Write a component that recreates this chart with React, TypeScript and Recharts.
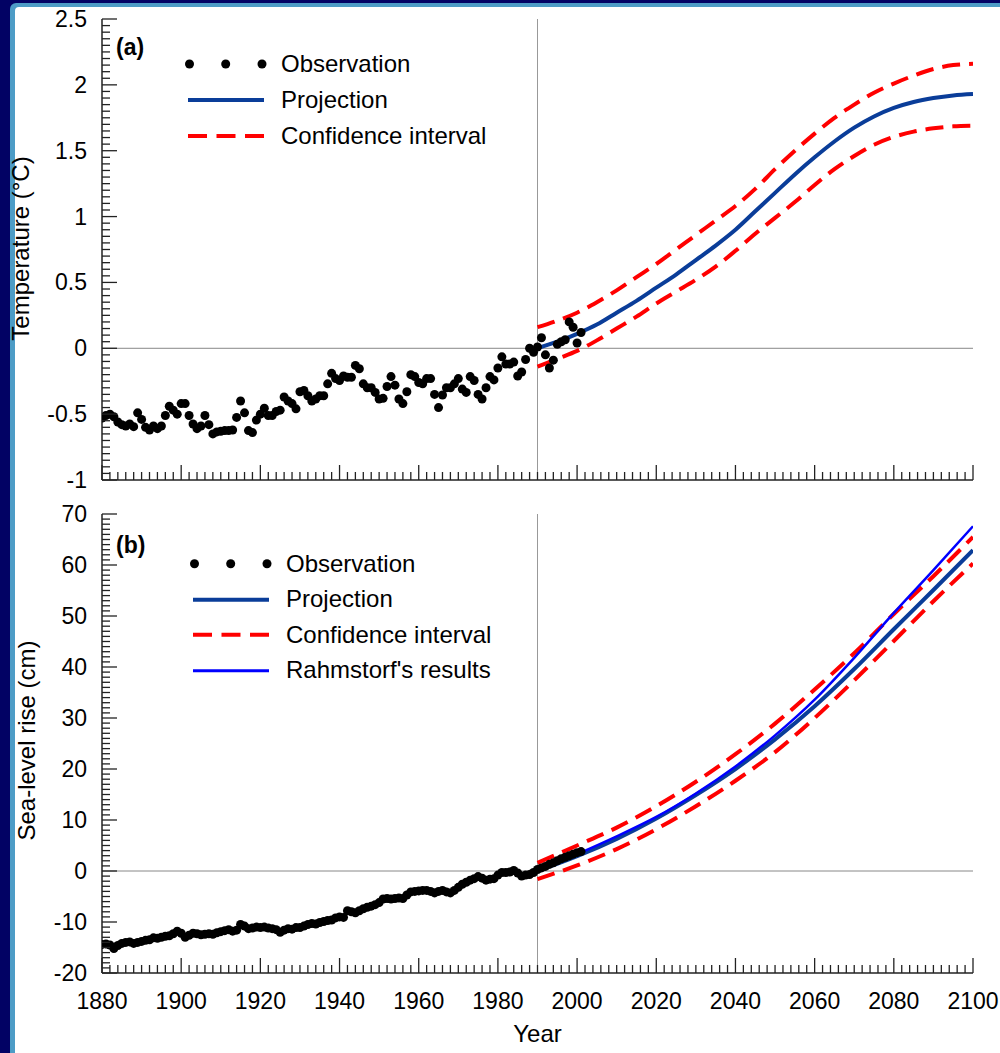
import React from "react";
import { ComposedChart, Line, Scatter, XAxis, YAxis, ReferenceLine, Legend } from "recharts";

const FONT = '"Liberation Sans", Arial, Helvetica, sans-serif';
const NAVY = "#020264";
const EDGE_BLUE = "#4d9cc6";
const AXIS = "#222222";
const PROJ_COLOR = "#0a3d99";
const CI_COLOR = "#ff0000";
const RAHM_COLOR = "#0000ff";

// observations, one value per year starting at 1880
const OBS_START = 1880;
const TEMP_OBS = [
  -0.53, -0.51, -0.5, -0.52, -0.56, -0.58, -0.59, -0.575, -0.595, -0.49,
  -0.54, -0.6, -0.62, -0.59, -0.61, -0.59, -0.51, -0.44, -0.47, -0.5,
  -0.42, -0.42, -0.51, -0.575, -0.61, -0.59, -0.51, -0.58, -0.65, -0.635,
  -0.63, -0.625, -0.625, -0.62, -0.525, -0.4, -0.49, -0.625, -0.64, -0.545,
  -0.5, -0.455, -0.51, -0.51, -0.48, -0.47, -0.37, -0.4, -0.42, -0.46,
  -0.33, -0.32, -0.36, -0.4, -0.385, -0.36, -0.36, -0.27, -0.19, -0.23,
  -0.245, -0.21, -0.22, -0.22, -0.13, -0.155, -0.27, -0.3, -0.3, -0.335,
  -0.385, -0.38, -0.29, -0.215, -0.28, -0.385, -0.42, -0.33, -0.2, -0.215,
  -0.26, -0.27, -0.23, -0.23, -0.35, -0.45, -0.355, -0.3, -0.3, -0.27,
  -0.23, -0.31, -0.335, -0.215, -0.245, -0.35, -0.385, -0.3, -0.215, -0.24,
  -0.15, -0.065, -0.12, -0.12, -0.105, -0.21, -0.18, -0.085, 0.0, -0.03,
  0.01, 0.08, -0.05, -0.15, -0.09, 0.03, 0.05, 0.065, 0.2, 0.16,
  0.04, 0.12,
];
const SEA_OBS = [
  -14.4, -14.3, -14.5, -15.2, -14.6, -14.2, -14.0, -13.9, -14.2, -14.0,
  -13.8, -13.6, -13.5, -13.1, -13.2, -13.0, -12.8, -12.7, -12.3, -11.8,
  -12.2, -13.0, -12.6, -12.2, -12.3, -12.5, -12.4, -12.3, -12.4, -12.1,
  -11.9, -11.7, -11.5, -11.8, -11.6, -10.5, -10.8, -11.3, -11.2, -11.0,
  -11.1, -11.0, -11.2, -11.3, -11.5, -12.0, -11.6, -11.3, -11.4, -11.1,
  -11.1, -10.8, -10.5, -10.3, -10.4, -10.1, -9.9, -9.7, -9.6, -9.2,
  -9.0, -9.1, -7.8, -8.0, -8.2, -7.8, -7.4, -7.1, -6.9, -6.6,
  -6.2, -5.5, -5.4, -5.5, -5.4, -5.3, -5.4, -4.7, -4.1, -4.0,
  -3.9, -3.8, -3.8, -4.0, -4.3, -4.0, -3.8, -4.1, -4.3, -3.8,
  -3.2, -2.6, -2.2, -1.8, -1.5, -1.1, -1.4, -1.8, -1.6, -1.5,
  -0.8, -0.3, -0.3, -0.2, 0.1, -0.4, -1.0, -0.8, -0.7, -0.3,
  0.3, 0.6, 0.9, 1.3, 1.6, 2.0, 2.4, 2.7, 3.0, 3.3,
  3.6, 3.8,
];

// projections
const PROJ_YEARS_A = [
  1990, 1995, 2000, 2005, 2010, 2015, 2020, 2025, 2030, 2035, 2040, 2045,
  2050, 2055, 2060, 2065, 2070, 2075, 2080, 2085, 2090, 2095, 2100,
];
const TEMP_PROJ = [
  0.0, 0.05, 0.11, 0.18, 0.27, 0.36, 0.46, 0.56, 0.67, 0.78, 0.9, 1.04,
  1.18, 1.32, 1.45, 1.57, 1.675, 1.76, 1.825, 1.87, 1.9, 1.92, 1.93,
];
const TEMP_UPPER = [
  0.16, 0.21, 0.27, 0.35, 0.44, 0.54, 0.64, 0.75, 0.86, 0.97, 1.08, 1.21,
  1.36, 1.5, 1.63, 1.75, 1.85, 1.94, 2.01, 2.07, 2.12, 2.15, 2.16,
];
const TEMP_LOWER = [
  -0.14, -0.08, -0.02, 0.06, 0.15, 0.24, 0.34, 0.43, 0.52, 0.62, 0.74, 0.87,
  0.99, 1.11, 1.24, 1.36, 1.46, 1.545, 1.605, 1.645, 1.67, 1.685, 1.69,
];

const PROJ_YEARS_B = [1990, 2000, 2010, 2020, 2030, 2040, 2050, 2060, 2070, 2080, 2090, 2100];
const SEA_PROJ = [0, 2.9, 6.3, 10.3, 14.9, 20.0, 25.8, 32.3, 39.6, 47.4, 55.1, 62.9];
const SEA_UPPER = [1.6, 5.0, 8.5, 12.7, 17.5, 22.9, 28.9, 35.6, 42.7, 50.4, 57.8, 65.5];
const SEA_LOWER = [-1.6, 1.1, 4.3, 8.2, 12.7, 17.7, 23.3, 30.0, 37.4, 45.1, 52.9, 60.3];
const SEA_RAHMSTORF = [0, 3.3, 6.8, 10.6, 15.2, 20.5, 26.6, 33.6, 41.8, 50.6, 59.0, 67.6];

// tick labels
const YEAR_LABELS = [1880, 1900, 1920, 1940, 1960, 1980, 2000, 2020, 2040, 2060, 2080, 2100];
const TEMP_LABELS = [-1, -0.5, 0, 0.5, 1, 1.5, 2, 2.5];
const SEA_LABELS = [-20, -10, 0, 10, 20, 30, 40, 50, 60, 70];

const LEGEND_ORDER = ["Observation", "Projection", "Confidence interval", "Rahmstorf's results"];

function steps(lo: number, hi: number, step: number) {
  const out: number[] = [];
  const n = Math.round((hi - lo) / step);
  for (let i = 0; i <= n; i++) out.push(+(lo + i * step).toFixed(4));
  return out;
}

const YEAR_TICKS = steps(1880, 2100, 2);
const TEMP_TICKS = steps(-1, 2.5, 0.05);
const SEA_TICKS = steps(-20, 70, 1);

const series = (years: number[], values: number[]) => values.map((value, i) => ({ year: years[i], value }));
const yearly = (values: number[]) => values.map((value, i) => ({ year: OBS_START + i, value }));

function EdgeTick(props: any) {
  const { x = 0, y = 0, payload, side, labels, showLabels } = props;
  const v = payload?.value ?? 0;
  const label = labels.find((l: number) => Math.abs(l - v) < 1e-6);
  const major = label !== undefined;
  const len = major ? 15 : 8;
  let x2 = x;
  let y2 = y;
  if (side === "bottom") y2 = y - len;
  else if (side === "top") y2 = y + len;
  else if (side === "left") x2 = x + len;
  else x2 = x - len;
  return (
    <g>
      <line x1={x} y1={y} x2={x2} y2={y2} stroke={AXIS} strokeWidth={1.3} />
      {showLabels && major && side === "bottom" && (
        <text x={x} y={y + 28} textAnchor="middle" dominantBaseline="central" fontSize={23} fontFamily={FONT} fill="#000">
          {label}
        </text>
      )}
      {showLabels && major && side === "left" && (
        <text x={x - 15} y={y} textAnchor="end" dominantBaseline="central" fontSize={23} fontFamily={FONT} fill="#000">
          {label}
        </text>
      )}
    </g>
  );
}

function LegendBox({ payload = [], rowH }: any) {
  const seen = new Set<string>();
  const items = [...payload]
    .filter((p: any) => {
      if (p.type === "none" || seen.has(p.value)) return false;
      seen.add(p.value);
      return true;
    })
    .sort((a: any, b: any) => LEGEND_ORDER.indexOf(a.value) - LEGEND_ORDER.indexOf(b.value));
  return (
    <div style={{ fontFamily: FONT, fontSize: 24, color: "#000" }}>
      {items.map((it: any) => (
        <div key={it.value} style={{ display: "flex", alignItems: "center", height: rowH, whiteSpace: "nowrap" }}>
          <svg width={96} height={rowH} style={{ flex: "none" }}>
            {it.type === "circle" ? (
              [4.5, 40.7, 77].map(cx => <circle key={cx} cx={cx} cy={rowH / 2} r={4.5} fill={it.color} />)
            ) : (
              <line
                x1={3}
                x2={79}
                y1={rowH / 2}
                y2={rowH / 2}
                stroke={it.color}
                strokeWidth={it.payload?.strokeWidth === 4 ? 4 : 3}
                strokeDasharray={it.payload?.strokeDasharray ? "19 9.5" : undefined}
              />
            )}
          </svg>
          <span>{it.value}</span>
        </div>
      ))}
    </div>
  );
}

function yTitle(text: string, cx: number, dy: number) {
  return {
    content: (p: any) => {
      const vb = p.viewBox ?? { y: 0, height: 0 };
      const cy = vb.y + vb.height / 2 + dy;
      return (
        <text x={cx} y={cy} transform={`rotate(-90 ${cx} ${cy})`} textAnchor="middle" dominantBaseline="central" fontSize={24} fontFamily={FONT} fill="#000">
          {text}
        </text>
      );
    },
  };
}

const xTitle = {
  content: (p: any) => {
    const vb = p.viewBox ?? { x: 0, y: 0, width: 0 };
    return (
      <text x={vb.x + vb.width / 2} y={vb.y + 60} textAnchor="middle" dominantBaseline="central" fontSize={24} fontFamily={FONT} fill="#000">
        Year
      </text>
    );
  },
};

const dot = (p: any) => <circle cx={p.cx} cy={p.cy} r={4.5} fill="#000" />;

function Panel(props: any) {
  const { top, height, xHeight, yDomain, yTicks, yLabels, title, titleX, titleDy, showX, children, legendTop, legendLeft, rowH, tag, tagTop } = props;
  const axisLine = { stroke: AXIS, strokeWidth: 1.5 };
  return (
    <div style={{ position: "absolute", left: 0, top }}>
      <ComposedChart width={1000} height={height} margin={{ top: 19, right: 27, bottom: 0, left: 0 }}>
        <XAxis
          type="number"
          dataKey="year"
          domain={[1880, 2100]}
          allowDataOverflow
          ticks={YEAR_TICKS}
          interval={0}
          height={xHeight}
          tickSize={0}
          tickMargin={0}
          tickLine={false}
          axisLine={axisLine}
          tick={<EdgeTick side="bottom" labels={YEAR_LABELS} showLabels={showX} />}
          label={showX ? xTitle : undefined}
        />
        <XAxis
          xAxisId="top"
          orientation="top"
          type="number"
          domain={[1880, 2100]}
          allowDataOverflow
          ticks={YEAR_TICKS}
          interval={0}
          height={0}
          tickSize={0}
          tickMargin={0}
          tickLine={false}
          axisLine={axisLine}
          tick={<EdgeTick side="top" labels={YEAR_LABELS} />}
        />
        <YAxis
          type="number"
          domain={yDomain}
          allowDataOverflow
          ticks={yTicks}
          interval={0}
          width={102}
          tickSize={0}
          tickMargin={0}
          tickLine={false}
          axisLine={axisLine}
          tick={<EdgeTick side="left" labels={yLabels} showLabels />}
          label={yTitle(title, titleX, titleDy)}
        />
        <YAxis
          yAxisId="right"
          orientation="right"
          type="number"
          domain={yDomain}
          allowDataOverflow
          ticks={yTicks}
          interval={0}
          width={0}
          tickSize={0}
          tickMargin={0}
          tickLine={false}
          axisLine={axisLine}
          tick={<EdgeTick side="right" labels={yLabels} />}
        />
        <ReferenceLine y={0} stroke="#888" strokeWidth={1} />
        <ReferenceLine x={1990} stroke="#999" strokeWidth={1} />
        {children}
        <Legend
          layout="vertical"
          align="center"
          verticalAlign="middle"
          wrapperStyle={{ top: legendTop, left: legendLeft, width: 420 }}
          content={(p: any) => <LegendBox payload={p.payload} rowH={rowH} />}
        />
      </ComposedChart>
      <div style={{ position: "absolute", left: 116, top: tagTop, fontFamily: FONT, fontSize: 23, fontWeight: "bold", lineHeight: "23px", color: "#000" }}>
        {tag}
      </div>
    </div>
  );
}

export default function App() {
  return (
    <div style={{ position: "relative", width: 1000, height: 1053, overflow: "hidden", background: NAVY }}>
      <style>{"body{margin:0}"}</style>
      <div style={{ position: "absolute", left: 10, top: 3, width: 1010, height: 1070, background: EDGE_BLUE, borderTopLeftRadius: 6 }} />
      <div style={{ position: "absolute", left: 15, top: 7, width: 1000, height: 1060, background: "#fff", borderTopLeftRadius: 4 }} />
      <Panel
        top={0}
        height={500}
        xHeight={20}
        yDomain={[-1, 2.5]}
        yTicks={TEMP_TICKS}
        yLabels={TEMP_LABELS}
        title="Temperature (°C)"
        titleX={20}
        titleDy={-1}
        showX={false}
        legendTop={46}
        legendLeft={185}
        rowH={36}
        tag="(a)"
        tagTop={36}
      >
        <Line name="Confidence interval" data={series(PROJ_YEARS_A, TEMP_UPPER)} dataKey="value" type="monotone" stroke={CI_COLOR} strokeWidth={4} strokeDasharray="18 9" dot={false} activeDot={false} legendType="line" isAnimationActive={false} />
        <Line name="Confidence interval (lower)" data={series(PROJ_YEARS_A, TEMP_LOWER)} dataKey="value" type="monotone" stroke={CI_COLOR} strokeWidth={4} strokeDasharray="18 9" dot={false} activeDot={false} legendType="none" isAnimationActive={false} />
        <Line name="Projection" data={series(PROJ_YEARS_A, TEMP_PROJ)} dataKey="value" type="monotone" stroke={PROJ_COLOR} strokeWidth={4} dot={false} activeDot={false} legendType="line" isAnimationActive={false} />
        <Scatter name="Observation" data={yearly(TEMP_OBS)} dataKey="value" fill="#000" shape={dot} legendType="circle" isAnimationActive={false} />
      </Panel>
      <Panel
        top={495}
        height={558}
        xHeight={80}
        yDomain={[-20, 70]}
        yTicks={SEA_TICKS}
        yLabels={SEA_LABELS}
        title="Sea-level rise (cm)"
        titleX={26}
        titleDy={-3}
        showX
        legendTop={51}
        legendLeft={190}
        rowH={35.5}
        tag="(b)"
        tagTop={39}
      >
        <Line name="Confidence interval" data={series(PROJ_YEARS_B, SEA_UPPER)} dataKey="value" type="monotone" stroke={CI_COLOR} strokeWidth={4} strokeDasharray="18 9" dot={false} activeDot={false} legendType="line" isAnimationActive={false} />
        <Line name="Confidence interval (lower)" data={series(PROJ_YEARS_B, SEA_LOWER)} dataKey="value" type="monotone" stroke={CI_COLOR} strokeWidth={4} strokeDasharray="18 9" dot={false} activeDot={false} legendType="none" isAnimationActive={false} />
        <Line name="Projection" data={series(PROJ_YEARS_B, SEA_PROJ)} dataKey="value" type="monotone" stroke={PROJ_COLOR} strokeWidth={4} dot={false} activeDot={false} legendType="line" isAnimationActive={false} />
        <Line name="Rahmstorf's results" data={series(PROJ_YEARS_B, SEA_RAHMSTORF)} dataKey="value" type="monotone" stroke={RAHM_COLOR} strokeWidth={2.5} dot={false} activeDot={false} legendType="line" isAnimationActive={false} />
        <Scatter name="Observation" data={yearly(SEA_OBS)} dataKey="value" fill="#000" shape={dot} legendType="circle" isAnimationActive={false} />
      </Panel>
    </div>
  );
}
